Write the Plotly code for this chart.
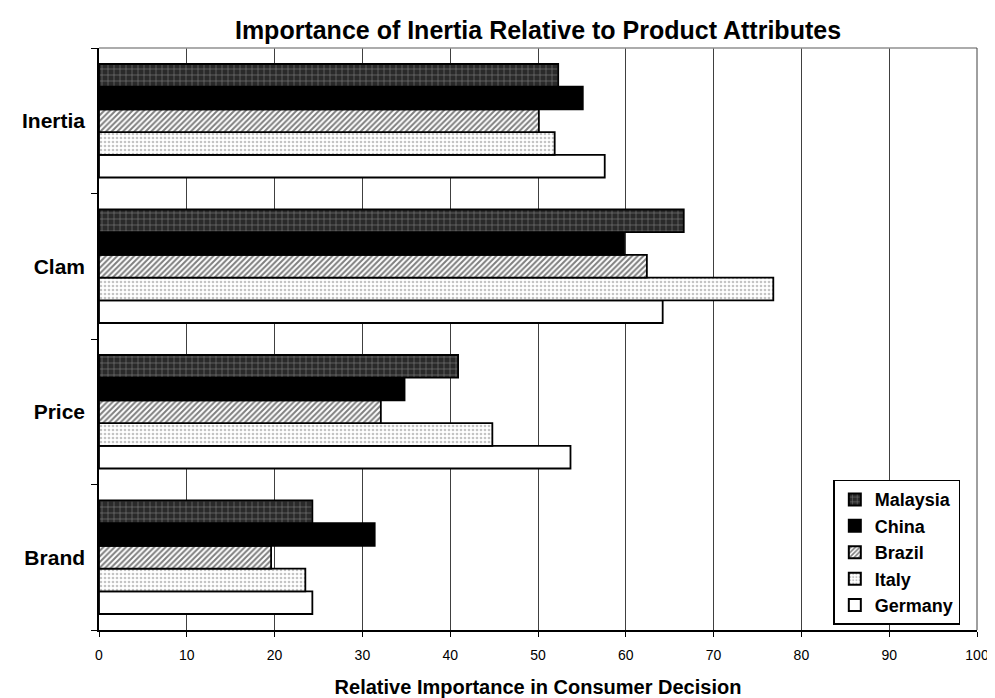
import plotly.graph_objects as go

categories = ["Brand", "Price", "Clam", "Inertia"]
series_names = ["Germany", "Italy", "Brazil", "China", "Malaysia"]

germany = [24.3, 53.7, 64.2, 57.6]
italy = [23.5, 44.8, 76.8, 51.9]
brazil = [19.6, 32.1, 62.4, 50.1]
china = [31.4, 34.8, 59.8, 55.1]
malaysia = [24.3, 40.9, 66.6, 52.3]

x_ticks = list(range(0, 101, 10))

values = {"Germany": germany, "Italy": italy, "Brazil": brazil, "China": china, "Malaysia": malaysia}

styles = {
    "Germany": dict(color="white", pattern=dict(shape="")),
    "Italy": dict(color="white", pattern=dict(shape=".", fgcolor="#8a8a8a", bgcolor="white", size=4, solidity=0.35, fillmode="overlay")),
    "Brazil": dict(color="white", pattern=dict(shape="/", fgcolor="black", bgcolor="white", size=4, solidity=0.5, fillmode="overlay")),
    "China": dict(color="black", pattern=dict(shape="")),
    "Malaysia": dict(color="#2a2a2a", pattern=dict(shape="+", fgcolor="#d8d8d8", bgcolor="#2a2a2a", size=6, solidity=0.18, fillmode="overlay")),
}

fig = go.Figure()
for name in series_names:
    st = styles[name]
    fig.add_trace(go.Bar(
        y=categories, x=values[name], name="<b>" + name + "</b>", orientation="h",
        marker=dict(color=st["color"], pattern=st["pattern"], line=dict(color="black", width=1.8)),
    ))

font_family = "Liberation Sans, Arial, sans-serif"

# page body has an 8px margin, so the figure is 8px smaller and shifted
W, H = 987, 690
fig.update_layout(
    width=W, height=H,
    margin=dict(l=91, r=18, t=40, b=68),
    paper_bgcolor="white", plot_bgcolor="white",
    barmode="group", bargap=0.22, bargroupgap=0,
    font=dict(family=font_family, color="black"),
    title=dict(text="<b>Importance of Inertia Relative to Product Attributes</b>",
               x=0.5, xref="paper", xanchor="center", y=1 - 22 / H, yanchor="middle",
               font=dict(size=25, family=font_family, color="black")),
    legend=dict(traceorder="reversed", x=0.981, xanchor="right", y=0.009, yanchor="bottom",
                bgcolor="white", bordercolor="black", borderwidth=1.5,
                font=dict(size=18, family=font_family, color="black"),
                itemsizing="constant", tracegroupgap=0),
    xaxis=dict(range=[0, 100], tickvals=x_ticks, ticktext=[str(v) for v in x_ticks],
               showgrid=True, gridcolor="#404040", gridwidth=1,
               showline=True, linecolor="black", linewidth=1.5,
               ticks="outside", ticklen=5, tickcolor="black",
               tickfont=dict(size=14, family=font_family), ticklabelstandoff=6,
               title=dict(text="<b>Relative Importance in Consumer Decision</b>", standoff=22,
                          font=dict(size=20, family=font_family)),
               zeroline=False, mirror=False, automargin=False),
    yaxis=dict(categoryorder="array", categoryarray=categories,
               showline=True, linecolor="black", linewidth=1.5,
               ticks="outside", tickson="boundaries", ticklen=6, tickcolor="black",
               tickfont=dict(size=21, family=font_family), ticklabelstandoff=8,
               showgrid=False, automargin=False),
)
fig.update_yaxes(ticktext=["<b>" + c + "</b>" for c in categories], tickvals=categories)

fig.add_shape(type="line", xref="paper", yref="paper", x0=0, x1=1, y0=1, y1=1,
              line=dict(color="#909090", width=1.5))
fig.add_shape(type="line", xref="paper", yref="paper", x0=1, x1=1, y0=0, y1=1,
              line=dict(color="#404040", width=1))

fig.write_html("out.html")
